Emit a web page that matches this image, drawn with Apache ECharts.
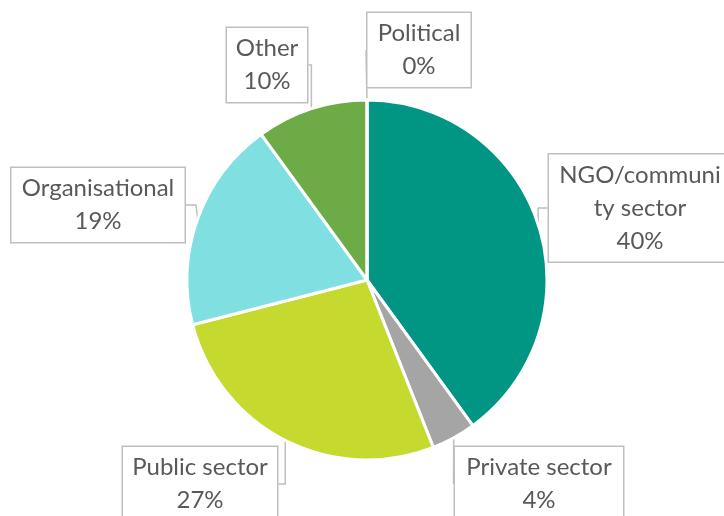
<!DOCTYPE html>
<html>
<head>
<meta charset="utf-8">
<script src="https://cdn.jsdelivr.net/npm/echarts@6/dist/echarts.min.js"></script>
<style>
  html, body { margin: 0; padding: 0; background: #fff; }
  #myChart { width: 724px; height: 516px; }
</style>
</head>
<body>
<div id="myChart"></div>
<script>
// data
const categories = ["NGO/community sector", "Private sector", "Public sector", "Organisational", "Other", "Political"];
const labelNames = ["NGO/communi\nty sector", "Private sector", "Public sector", "Organisational", "Other", "Political"];
const values = [40, 4, 27, 19, 10, 0];
const colors = ["#009683", "#A5A5A5", "#C5D92F", "#7FDFE1", "#6DAB46", "#4E8542"];

// callout box centre + width (layout only)
const boxes = [
  { x: 640, y: 208, w: 182 },
  { x: 539, y: 484, w: 168 },
  { x: 200, y: 484, w: 154 },
  { x: 98, y: 205, w: 173 },
  { x: 267, y: 65, w: 80 },
  { x: 419, y: 50, w: 103 }
];

let chart = echarts.init(document.getElementById("myChart"));

let option = {
  animation: false,
  series: [
    {
      type: "pie",
      center: [367, 280],
      radius: 180,
      startAngle: 90,
      clockwise: true,
      avoidLabelOverlap: false,
      itemStyle: { borderColor: "#fff", borderWidth: 3 },
      label: {
        show: true,
        position: "outside",
        fontFamily: "Lato",
        fontSize: 24,
        lineHeight: 33,
        color: "#595959",
        backgroundColor: "#fff",
        borderColor: "#BFBFBF",
        borderWidth: 1.5,
        padding: [4, 0],
        align: "center",
        formatter: function(p) {
          return labelNames[p.dataIndex] + "\n" + Math.round(p.percent) + "%";
        }
      },
      labelLine: {
        show: true,
        length: 10,
        length2: 10,
        lineStyle: { color: "#BFBFBF", width: 1.5 }
      },
      labelLayout: function(params) {
        let b = boxes[params.dataIndex];
        return { x: b.x, y: b.y, align: "center", verticalAlign: "middle" };
      },
      data: categories.map(function(name, i) {
        return {
          name: name,
          value: values[i],
          itemStyle: { color: colors[i] },
          label: { width: boxes[i].w }
        };
      })
    }
  ]
};

chart.setOption(option);
</script>
</body>
</html>
